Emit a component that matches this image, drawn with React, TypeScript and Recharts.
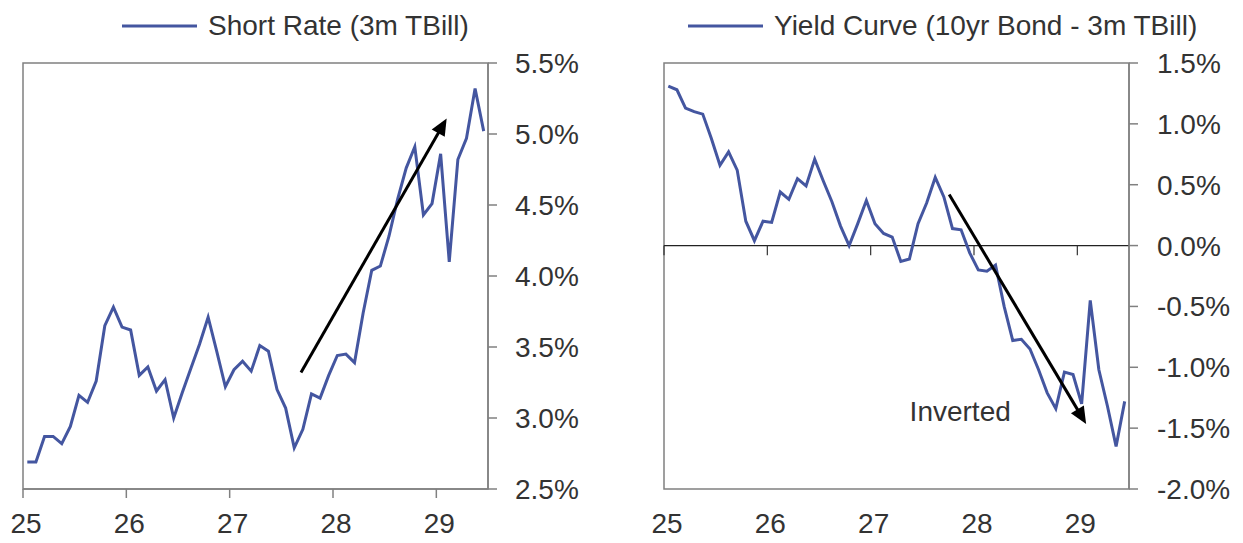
import React from 'react';
import {
  LineChart,
  Line,
  XAxis,
  YAxis,
  ReferenceLine,
  ReferenceArea,
  ReferenceDot,
  Legend,
} from 'recharts';

const FONT = '"Liberation Sans", Arial, sans-serif';
const TEXT = '#333333';
const BLUE = '#4456a0';
const GRAY = '#808080';

// Monthly observations, year labels 25..29
const shortRate = [
  2.69, 2.69, 2.87, 2.87, 2.82, 2.94, 3.16, 3.11, 3.26, 3.65, 3.78, 3.64,
  3.62, 3.3, 3.36, 3.19, 3.27, 3.0, 3.18, 3.35, 3.52, 3.71, 3.47, 3.22,
  3.34, 3.4, 3.33, 3.51, 3.47, 3.2, 3.07, 2.79, 2.92, 3.17, 3.14, 3.3,
  3.44, 3.45, 3.39, 3.74, 4.04, 4.07, 4.28, 4.54, 4.76, 4.91, 4.43, 4.51,
  4.86, 4.1, 4.82, 4.97, 5.32, 5.02,
];

const yieldCurve = [
  1.31, 1.28, 1.13, 1.1, 1.08, 0.88, 0.66, 0.77, 0.62, 0.2, 0.04, 0.2,
  0.19, 0.44, 0.38, 0.55, 0.49, 0.71, 0.53, 0.36, 0.16, 0.0, 0.18, 0.37,
  0.18, 0.1, 0.07, -0.13, -0.11, 0.18, 0.35, 0.56, 0.4, 0.14, 0.13, -0.06,
  -0.2, -0.21, -0.16, -0.5, -0.78, -0.77, -0.85, -1.02, -1.21, -1.34, -1.04, -1.06,
  -1.3, -0.45, -1.02, -1.32, -1.65, -1.28,
];

const xTicks = [25, 26, 27, 28, 29];
const xDomain = [25, 29.5];
const shortTicks = [2.5, 3, 3.5, 4, 4.5, 5, 5.5];
const curveTicks = [-2, -1.5, -1, -0.5, 0, 0.5, 1, 1.5];

const shortLabel = 'Short Rate (3m TBill)';
const curveLabel = 'Yield Curve (10yr Bond - 3m TBill)';
const invertedLabel = 'Inverted';

// mid-month time stamps (year fraction)
const months = shortRate.map((_, i) => 25 + (i + 0.5) / 12);

const shortData = months.map((t, i) => ({ t, v: shortRate[i] }));
const curveData = months.map((t, i) => ({ t, v: yieldCurve[i] }));

const shortArrow = [
  { x: 27.69, y: 3.32 },
  { x: 29.1, y: 5.11 },
];
const curveArrow = [
  { x: 27.76, y: 0.42 },
  { x: 29.085, y: -1.466 },
];
const invertedPos = { x: 27.377, y: -1.36 };

const fmtPct = (v: number) => `${v.toFixed(1)}%`;

const tickText = { fontFamily: FONT, fontSize: 28, fill: TEXT };

const Arrow = (props: any) => {
  const { x1, y1, x2, y2 } = props;
  const dx = x2 - x1;
  const dy = y2 - y1;
  const len = Math.hypot(dx, dy) || 1;
  const ux = dx / len;
  const uy = dy / len;
  const hl = 17;
  const hw = 7.5;
  const bx = x2 - ux * hl;
  const by = y2 - uy * hl;
  const px = -uy;
  const py = ux;
  return (
    <g>
      <line
        x1={x1}
        y1={y1}
        x2={bx + ux * 2}
        y2={by + uy * 2}
        stroke="#000"
        strokeWidth={3}
      />
      <polygon
        points={`${x2},${y2} ${bx + px * hw},${by + py * hw} ${bx - px * hw},${by - py * hw}`}
        fill="#000"
      />
    </g>
  );
};

const LegendContent = (props: any) => {
  const item = props.payload && props.payload[0];
  if (!item) return null;
  return (
    <div
      style={{
        display: 'flex',
        alignItems: 'center',
        height: 34,
        whiteSpace: 'nowrap',
        fontFamily: FONT,
        fontSize: 28,
        color: TEXT,
      }}
    >
      <svg width={75} height={6} style={{ display: 'block' }}>
        <line x1={0} y1={3} x2={75} y2={3} stroke={item.color} strokeWidth={3} />
      </svg>
      <span style={{ marginLeft: 11, lineHeight: '34px' }}>{item.value}</span>
    </div>
  );
};

export default function App() {
  return (
    <div
      style={{
        position: 'absolute',
        left: 0,
        top: 0,
        width: 1243,
        height: 543,
        background: '#fff',
        overflow: 'hidden',
      }}
    >
      <div style={{ position: 'absolute', left: 0, top: 0 }}>
        <LineChart
          width={640}
          height={543}
          data={shortData}
          margin={{ top: 63, right: 0, bottom: 0, left: 23 }}
        >
          <XAxis
            dataKey="t"
            type="number"
            domain={xDomain}
            ticks={xTicks}
            interval={0}
            allowDataOverflow
            height={54}
            tickSize={9}
            tickMargin={15}
            stroke={GRAY}
            strokeWidth={1.5}
            tick={{ ...tickText, dx: 3 }}
          />
          <YAxis
            orientation="right"
            type="number"
            domain={[2.5, 5.5]}
            ticks={shortTicks}
            interval={0}
            allowDataOverflow
            width={152}
            tickSize={9}
            tickMargin={18}
            stroke={GRAY}
            strokeWidth={1.5}
            tick={tickText}
            tickFormatter={fmtPct}
          />
          <ReferenceArea
            x1={25}
            x2={29.5}
            y1={2.5}
            y2={5.5}
            fill="none"
            stroke={GRAY}
            strokeWidth={1.5}
          />
          <Line
            dataKey="v"
            name={shortLabel}
            type="linear"
            stroke={BLUE}
            strokeWidth={3}
            dot={false}
            isAnimationActive={false}
          />
          <ReferenceLine segment={shortArrow} shape={Arrow} />
          <Legend
            layout="horizontal"
            verticalAlign="middle"
            align="center"
            content={LegendContent}
            wrapperStyle={{ top: 9, left: 122, width: 'auto' }}
          />
        </LineChart>
      </div>
      <div style={{ position: 'absolute', left: 640, top: 0 }}>
        <LineChart
          width={603}
          height={543}
          data={curveData}
          margin={{ top: 63, right: 0, bottom: 0, left: 24 }}
        >
          <XAxis
            dataKey="t"
            type="number"
            domain={xDomain}
            ticks={xTicks}
            interval={0}
            allowDataOverflow
            height={54}
            tickSize={9}
            tickMargin={15}
            axisLine={false}
            tickLine={false}
            stroke={GRAY}
            tick={{ ...tickText, dx: 3 }}
          />
          <YAxis
            orientation="right"
            type="number"
            domain={[-2, 1.5]}
            ticks={curveTicks}
            interval={0}
            allowDataOverflow
            width={114}
            tickSize={9}
            tickMargin={19}
            stroke={GRAY}
            strokeWidth={1.5}
            tick={tickText}
            tickFormatter={fmtPct}
          />
          <ReferenceArea
            x1={25}
            x2={29.5}
            y1={-2}
            y2={1.5}
            fill="none"
            stroke={GRAY}
            strokeWidth={1.5}
          />
          <ReferenceLine y={0} stroke="#222" strokeWidth={1.2} />
          {xTicks.map((t) => (
            <ReferenceLine
              key={t}
              segment={[
                { x: t, y: 0 },
                { x: t, y: -0.08 },
              ]}
              stroke="#333"
              strokeWidth={1.2}
            />
          ))}
          <Line
            dataKey="v"
            name={curveLabel}
            type="linear"
            stroke={BLUE}
            strokeWidth={3}
            dot={false}
            isAnimationActive={false}
          />
          <ReferenceLine segment={curveArrow} shape={Arrow} />
          <ReferenceDot
            x={invertedPos.x}
            y={invertedPos.y}
            r={0}
            fill="none"
            stroke="none"
            label={{
              value: invertedLabel,
              position: 'right',
              offset: 0,
              fill: TEXT,
              fontSize: 28,
              fontFamily: FONT,
            }}
          />
          <Legend
            layout="horizontal"
            verticalAlign="middle"
            align="center"
            content={LegendContent}
            wrapperStyle={{ top: 9, left: 48, width: 'auto' }}
          />
        </LineChart>
      </div>
    </div>
  );
}
